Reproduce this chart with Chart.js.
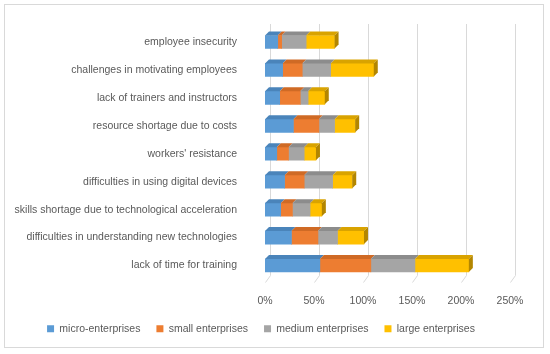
<!DOCTYPE html>
<html>
<head>
<meta charset="utf-8">
<script src="https://cdn.jsdelivr.net/npm/chart.js@4"></script>
<style>
  body { margin: 0; background: #fff; }
  #wrap { position: relative; width: 550px; height: 354px; }
  #frame { position: absolute; left: 4px; top: 4px; width: 540px; height: 344px; border: 1px solid #d9d9d9; box-sizing: border-box; pointer-events: none; }
</style>
</head>
<body>
<div id="wrap">
  <canvas id="chart" width="550" height="354"></canvas>
  <div id="frame"></div>
</div>
<script>
const categories = [
  "employee insecurity",
  "challenges in motivating employees",
  "lack of trainers and instructors",
  "resource shortage due to costs",
  "workers' resistance",
  "difficulties in using digital devices",
  "skills shortage due to technological acceleration",
  "difficulties in understanding new technologies",
  "lack of time for training"
];
const micro = [13, 18, 15, 29, 12, 20, 16, 27, 56];
const small = [4, 20, 21, 26, 12, 20, 12, 27, 52];
const medium = [25, 29, 8, 16, 16, 29, 18, 20, 45];
const large = [29, 44, 17, 21, 12, 20, 12, 27, 55];
const xTicks = [0, 50, 100, 150, 200, 250];

const seriesNames = ["micro-enterprises", "small enterprises", "medium enterprises", "large enterprises"];
const faceColors = ["#5B9BD5", "#ED7D31", "#A5A5A5", "#FFC000"];
const topColors = ["#4a84ba", "#cf6a25", "#8c8c8c", "#d9a300"];
const sideColor = "#b38600";
const depth = 4;

// fake the excel 3d look: back grid + floor, top faces, end cap
const depthPlugin = {
  id: "depth",
  beforeDatasetsDraw(chart) {
    const ctx = chart.ctx, area = chart.chartArea, xs = chart.scales.x;
    ctx.save();
    ctx.strokeStyle = "#d9d9d9";
    ctx.lineWidth = 1;
    xTicks.forEach(v => {
      const px = Math.round(xs.getPixelForValue(v)) + 0.5;
      ctx.beginPath();
      ctx.moveTo(px + depth + 1, area.top - 4);
      ctx.lineTo(px + depth + 1, area.bottom - depth);
      ctx.lineTo(px, area.bottom + 3);
      ctx.stroke();
    });
    ctx.restore();
  },
  afterDatasetsDraw(chart) {
    const ctx = chart.ctx;
    const last = chart.data.datasets.length - 1;
    ctx.save();
    chart.data.datasets.forEach((ds, i) => {
      chart.getDatasetMeta(i).data.forEach(bar => {
        const top = bar.y - bar.height / 2, bottom = bar.y + bar.height / 2;
        const x0 = Math.min(bar.base, bar.x), x1 = Math.max(bar.base, bar.x);
        ctx.fillStyle = topColors[i];
        ctx.beginPath();
        ctx.moveTo(x0, top);
        ctx.lineTo(x1, top);
        ctx.lineTo(x1 + depth, top - depth);
        ctx.lineTo(x0 + depth, top - depth);
        ctx.closePath();
        ctx.fill();
        if (i === last) {
          ctx.fillStyle = sideColor;
          ctx.beginPath();
          ctx.moveTo(x1, top);
          ctx.lineTo(x1 + depth, top - depth);
          ctx.lineTo(x1 + depth, bottom - depth);
          ctx.lineTo(x1, bottom);
          ctx.closePath();
          ctx.fill();
        }
      });
    });
    ctx.restore();
  }
};

const font = { family: "'Liberation Sans', Arial, sans-serif", size: 10.5 };

new Chart(document.getElementById("chart"), {
  type: "bar",
  data: {
    labels: categories,
    datasets: [micro, small, medium, large].map((d, i) => ({
      label: seriesNames[i],
      data: d,
      backgroundColor: faceColors[i],
      borderWidth: 0,
      barThickness: 13
    }))
  },
  options: {
    indexAxis: "y",
    responsive: false,
    animation: false,
    layout: { padding: { top: 28, right: 40, bottom: 10, left: 12 } },
    scales: {
      x: {
        stacked: true,
        min: 0,
        max: 250,
        grid: { display: false },
        border: { display: false },
        afterBuildTicks(scale) { scale.ticks = xTicks.map(v => ({ value: v })); },
        afterFit(scale) { scale.height = 28; },
        ticks: { color: "#595959", font, padding: 7, callback: v => v + "%" }
      },
      y: {
        stacked: true,
        grid: { display: false },
        border: { display: false },
        afterFit(scale) { scale.width = 253; },
        ticks: { color: "#595959", font, padding: 20 }
      }
    },
    plugins: {
      legend: {
        position: "bottom",
        labels: { color: "#595959", font, boxWidth: 7, boxHeight: 7, padding: 16 }
      },
      tooltip: { enabled: false }
    }
  },
  plugins: [depthPlugin]
});
</script>
</body>
</html>
